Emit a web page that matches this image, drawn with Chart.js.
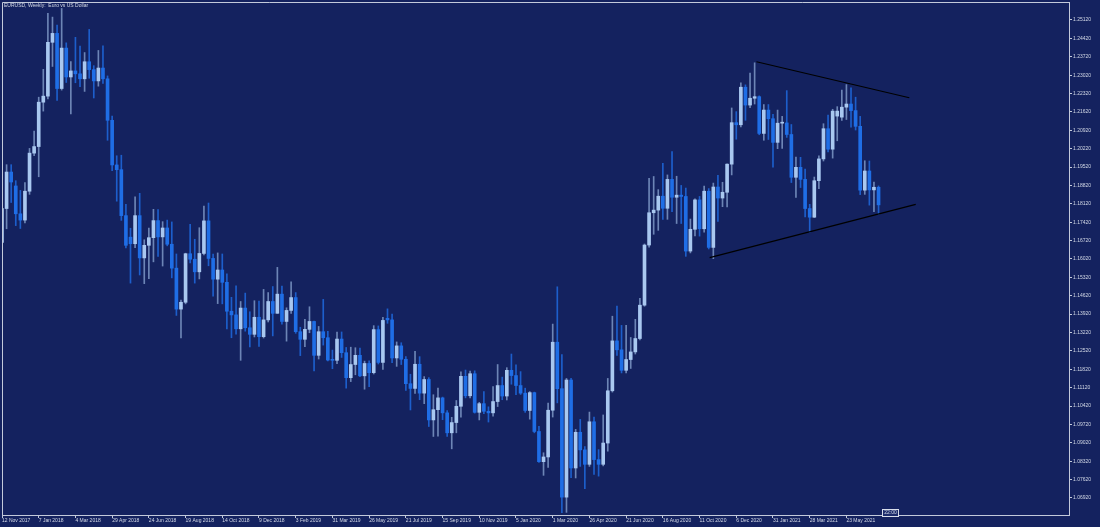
<!DOCTYPE html>
<html>
<head>
<meta charset="utf-8">
<script src="https://cdn.jsdelivr.net/npm/chart.js@4.4.0/dist/chart.umd.min.js"></script>
<style>
html,body{margin:0;padding:0;background:#14225f;overflow:hidden}
#wrap{width:1100px;height:527px;position:relative}
</style>
</head>
<body>
<div id="wrap"><canvas id="c" width="1100" height="527"></canvas></div>
<script>
// EURUSD weekly candles, week of 12 Nov 2017 (index 0) to week of 11 Jul 2021 (index 191)
const opens = [
1.1665,1.1794,1.1933,1.1880,1.1774,1.1750,1.1860,1.2005,1.2030,1.2199,
1.2222,1.2427,1.2461,1.2251,1.2405,1.2295,1.2318,1.2307,1.2288,1.2353,
1.2323,1.2280,1.2329,1.2288,1.2130,1.1960,1.1942,1.1767,1.1685,1.1660,
1.1767,1.1606,1.1654,1.1683,1.1748,1.1686,1.1720,1.1658,1.1567,1.1411,
1.1437,1.1622,1.1601,1.1553,1.1623,1.1747,1.1604,1.1525,1.1560,1.1513,
1.1403,1.1389,1.1336,1.1415,1.1340,1.1315,1.1380,1.1306,1.1370,1.1440,
1.1395,1.1468,1.1364,1.1406,1.1455,1.1325,1.1296,1.1334,1.1364,1.1235,
1.1325,1.1302,1.1217,1.1216,1.1297,1.1245,1.1150,1.1200,1.1235,1.1157,
1.1204,1.1169,1.1333,1.1208,1.1376,1.1370,1.1225,1.1271,1.1220,1.1127,
1.1109,1.1201,1.1091,1.1143,1.0989,1.1028,1.1073,1.1016,1.0940,1.0979,
1.1041,1.1155,1.1081,1.1165,1.1018,1.1051,1.1022,1.1016,1.1059,1.1120,
1.1080,1.1178,1.1158,1.1120,1.1091,1.1025,1.1093,1.0945,1.0830,1.0848,
1.1026,1.1285,1.1108,1.0695,1.1141,1.0806,1.0942,1.0875,1.0820,1.0982,
1.0838,1.0820,1.0901,1.1100,1.1290,1.1256,1.1178,1.1219,1.1248,1.1299,
1.1426,1.1655,1.1778,1.1788,1.1841,1.1795,1.1905,1.1837,1.1845,1.1840,
1.1632,1.1715,1.1827,1.1717,1.1860,1.1646,1.1876,1.1834,1.1856,1.1963,
1.2121,1.2113,1.2256,1.2188,1.2214,1.2220,1.2080,1.2169,1.2136,1.2046,
1.2119,1.2120,1.2076,1.1913,1.1951,1.1905,1.1794,1.1761,1.1900,1.1983,
1.2098,1.2020,1.2146,1.2142,1.2180,1.2192,1.2167,1.2107,1.1864,1.1937,
1.1865,1.1875
];
const highs = [
1.1862,1.1961,1.1961,1.1900,1.1863,1.1893,1.2023,1.2089,1.2218,1.2324,
1.2537,1.2523,1.2493,1.2556,1.2425,1.2354,1.2446,1.2413,1.2388,1.2476,
1.2338,1.2396,1.2414,1.2299,1.2146,1.1995,1.1997,1.1810,1.1719,1.1839,
1.1852,1.1675,1.1720,1.1791,1.1790,1.1744,1.1750,1.1743,1.1621,1.1445,
1.1624,1.1734,1.1677,1.1721,1.1803,1.1815,1.1621,1.1625,1.1621,1.1545,
1.1456,1.1500,1.1440,1.1472,1.1401,1.1443,1.1442,1.1486,1.1474,1.1497,
1.1570,1.1499,1.1416,1.1515,1.1474,1.1342,1.1372,1.1420,1.1365,1.1345,
1.1448,1.1326,1.1255,1.1324,1.1324,1.1265,1.1266,1.1264,1.1263,1.1213,
1.1214,1.1348,1.1347,1.1380,1.1412,1.1392,1.1286,1.1283,1.1230,1.1163,
1.1250,1.1230,1.1154,1.1150,1.1085,1.1110,1.1076,1.1025,1.0999,1.1063,
1.1172,1.1179,1.1175,1.1176,1.1056,1.1097,1.1039,1.1116,1.1200,1.1152,
1.1188,1.1240,1.1199,1.1173,1.1110,1.1097,1.1095,1.0965,1.0864,1.1053,
1.1354,1.1496,1.1238,1.1147,1.1147,1.0953,1.0991,1.0888,1.1019,1.1000,
1.0876,1.1008,1.1147,1.1384,1.1423,1.1349,1.1349,1.1303,1.1372,1.1452,
1.1659,1.1909,1.1916,1.1866,1.1966,1.1922,1.2011,1.1917,1.1882,1.1872,
1.1754,1.1831,1.1840,1.1880,1.1870,1.1891,1.1920,1.1894,1.1964,1.2177,
1.2163,1.2273,1.2265,1.2310,1.2349,1.2223,1.2190,1.2190,1.2153,1.2169,
1.2145,1.2243,1.2114,1.1990,1.1989,1.1944,1.1810,1.1914,1.1995,1.2117,
1.2150,1.2172,1.2182,1.2245,1.2266,1.2254,1.2218,1.2145,1.1976,1.1975,
1.1895,1.1880
];
const lows = [
1.1635,1.1717,1.1817,1.1729,1.1718,1.1739,1.1848,1.1995,1.1915,1.2165,
1.2211,1.2335,1.2206,1.2245,1.2274,1.2154,1.2273,1.2258,1.2240,1.2290,
1.2215,1.2260,1.2270,1.2054,1.1938,1.1822,1.1749,1.1644,1.1510,1.1645,
1.1541,1.1508,1.1527,1.1591,1.1612,1.1575,1.1652,1.1530,1.1387,1.1301,
1.1431,1.1587,1.1510,1.1526,1.1617,1.1576,1.1460,1.1432,1.1431,1.1336,
1.1302,1.1316,1.1216,1.1327,1.1267,1.1305,1.1269,1.1301,1.1362,1.1309,
1.1395,1.1354,1.1289,1.1395,1.1319,1.1234,1.1268,1.1321,1.1176,1.1221,
1.1274,1.1214,1.1184,1.1203,1.1227,1.1110,1.1135,1.1161,1.1154,1.1106,
1.1116,1.1164,1.1202,1.1181,1.1357,1.1207,1.1193,1.1200,1.1101,1.1027,
1.1090,1.1066,1.1051,1.0964,1.0926,1.0927,1.0990,1.0926,1.0879,1.0940,
1.1000,1.1073,1.1073,1.1015,1.0989,1.1013,1.0981,1.1003,1.1040,1.1066,
1.1065,1.1125,1.1085,1.1086,1.1018,1.0992,1.0940,1.0827,1.0778,1.0808,
1.1000,1.1054,1.0636,1.0637,1.0769,1.0768,1.0812,1.0727,1.0812,1.0782,
1.0775,1.0814,1.0870,1.1095,1.1235,1.1168,1.1168,1.1185,1.1240,1.1294,
1.1422,1.1647,1.1696,1.1711,1.1753,1.1753,1.1782,1.1737,1.1737,1.1612,
1.1625,1.1690,1.1689,1.1704,1.1640,1.1603,1.1745,1.1801,1.1800,1.1922,
1.2058,1.2105,1.2130,1.2178,1.2192,1.2075,1.2054,1.2057,1.1952,1.2022,
1.2023,1.2065,1.1893,1.1836,1.1874,1.1762,1.1704,1.1760,1.1870,1.1975,
1.2010,1.1986,1.2052,1.2130,1.2133,1.2104,1.2093,1.1847,1.1848,1.1807,
1.1782,1.1772
];
const closes = [
1.1794,1.1933,1.1895,1.1774,1.1750,1.1860,1.2005,1.2030,1.2199,1.2222,
1.2427,1.2461,1.2251,1.2405,1.2295,1.2318,1.2307,1.2288,1.2353,1.2323,
1.2280,1.2329,1.2288,1.2130,1.1960,1.1942,1.1767,1.1654,1.1660,1.1767,
1.1606,1.1654,1.1683,1.1748,1.1686,1.1720,1.1658,1.1567,1.1411,1.1437,
1.1622,1.1601,1.1553,1.1623,1.1747,1.1604,1.1525,1.1560,1.1513,1.1403,
1.1389,1.1336,1.1415,1.1340,1.1315,1.1380,1.1306,1.1370,1.1440,1.1395,
1.1468,1.1364,1.1406,1.1455,1.1325,1.1296,1.1334,1.1364,1.1235,1.1325,
1.1302,1.1217,1.1216,1.1297,1.1245,1.1150,1.1200,1.1235,1.1157,1.1204,
1.1169,1.1333,1.1208,1.1368,1.1370,1.1225,1.1271,1.1220,1.1127,1.1109,
1.1201,1.1091,1.1143,1.0989,1.1028,1.1073,1.1016,1.0940,1.0979,1.1041,
1.1155,1.1081,1.1165,1.1018,1.1051,1.1022,1.1016,1.1059,1.1120,1.1080,
1.1178,1.1158,1.1120,1.1091,1.1025,1.1093,1.0945,1.0830,1.0848,1.1026,
1.1285,1.1108,1.0695,1.1141,1.0806,1.0942,1.0875,1.0820,1.0982,1.0838,
1.0820,1.0901,1.1100,1.1290,1.1256,1.1178,1.1219,1.1248,1.1299,1.1426,
1.1655,1.1778,1.1788,1.1841,1.1795,1.1905,1.1837,1.1845,1.1840,1.1632,
1.1715,1.1827,1.1717,1.1860,1.1646,1.1876,1.1834,1.1856,1.1963,1.2121,
1.2113,1.2256,1.2188,1.2214,1.2220,1.2080,1.2169,1.2136,1.2046,1.2119,
1.2120,1.2076,1.1913,1.1951,1.1905,1.1794,1.1761,1.1900,1.1983,1.2098,
1.2020,1.2165,1.2165,1.2180,1.2192,1.2167,1.2107,1.1864,1.1937,1.1865,
1.1875,1.1808
];
// x tick positions (week index) and their labels
const xTickIndex = [0,8,16,24,32,40,48,56,64,72,80,88,96,104,112,120,128,136,144,152,160,168,176,184];
const xTickLabels = ['12 Nov 2017','7 Jan 2018','4 Mar 2018','29 Apr 2018','24 Jun 2018','19 Aug 2018',
  '14 Oct 2018','9 Dec 2018','3 Feb 2019','31 Mar 2019','26 May 2019','21 Jul 2019','15 Sep 2019',
  '10 Nov 2019','5 Jan 2020','1 Mar 2020','26 Apr 2020','21 Jun 2020','16 Aug 2020','11 Oct 2020',
  '6 Dec 2020','31 Jan 2021','28 Mar 2021','23 May 2021'];
// price axis ticks
const yTicks = [1.0692,1.0762,1.0832,1.0902,1.0972,1.1042,1.1112,1.1182,1.1252,1.1322,1.1392,1.1462,1.1532,
  1.1602,1.1672,1.1742,1.1812,1.1882,1.1952,1.2022,1.2092,1.2162,1.2232,1.2302,1.2372,1.2442,1.2512];
// triangle trend lines: [startIndex, startPrice, endIndex, endPrice]
const upperLine = [164.4, 1.2353, 197.7, 1.2216];
const lowerLine = [154.2, 1.1607, 199.1, 1.1810];

const titleText = 'EURUSD, Weekly:  Euro vs US Dollar';
const timeLabel = '22:00';

const BG = '#14225f';
const BULL = '#a9c8f0', BEAR = '#1f6ee6';
const BULL_WICK = 'rgba(169,200,240,0.6)', BEAR_WICK = 'rgba(31,110,230,0.8)';
const FRAME = '#c3cadb', TEXT = '#d3d9e6';
const FONT = {family: 'Liberation Sans, Arial, sans-serif', size: 5};

const isBull = opens.map((o, i) => closes[i] >= o);

const bgPlugin = {
  id: 'bg',
  beforeDraw(chart) {
    const c = chart.ctx;
    c.save();
    c.fillStyle = BG;
    c.fillRect(0, 0, chart.width, chart.height);
    c.restore();
  },
  afterDraw(chart) {
    const c = chart.ctx, a = chart.chartArea;
    c.save();
    c.strokeStyle = FRAME;
    c.lineWidth = 1;
    c.beginPath();
    c.moveTo(Math.round(a.left) + 0.5, Math.round(a.bottom) + 0.5);
    c.lineTo(Math.round(a.left) + 0.5, Math.round(a.top) + 0.5);
    c.lineTo(Math.round(a.right) + 0.5, Math.round(a.top) + 0.5);
    c.stroke();
    c.fillStyle = TEXT;
    c.font = '5px "Liberation Sans", Arial, sans-serif';
    c.textBaseline = 'middle';
    c.textAlign = 'left';
    c.fillText(titleText, 4, 5.5);
    // time marker box on bottom axis
    const bx = 882, by = 509;
    c.fillStyle = '#1d2c6c';
    c.fillRect(bx, by, 16, 7);
    c.strokeStyle = '#d8deea';
    c.strokeRect(bx + 0.5, by + 0.5, 16, 7);
    c.fillStyle = TEXT;
    c.textAlign = 'center';
    c.fillText(timeLabel, bx + 8.5, by + 4);
    c.restore();
  }
};

new Chart(document.getElementById('c').getContext('2d'), {
  type: 'bar',
  data: {
    datasets: [
      {
        label: 'wicks',
        data: opens.map((o, i) => ({x: i, y: [lows[i], highs[i]]})),
        backgroundColor: isBull.map(b => b ? BULL_WICK : BEAR_WICK),
        barThickness: 1,
        grouped: false,
        order: 3
      },
      {
        label: 'bodies',
        data: opens.map((o, i) => ({x: i, y: [o, closes[i]]})),
        backgroundColor: isBull.map(b => b ? BULL : BEAR),
        barThickness: 3,
        minBarLength: 1,
        grouped: false,
        order: 2
      },
      {
        type: 'line',
        label: 'upper',
        data: [{x: upperLine[0], y: upperLine[1]}, {x: upperLine[2], y: upperLine[3]}],
        borderColor: '#000000',
        borderWidth: 1.2,
        pointRadius: 0,
        order: 1
      },
      {
        type: 'line',
        label: 'lower',
        data: [{x: lowerLine[0], y: lowerLine[1]}, {x: lowerLine[2], y: lowerLine[3]}],
        borderColor: '#000000',
        borderWidth: 1.2,
        pointRadius: 0,
        order: 0
      }
    ]
  },
  options: {
    responsive: false,
    animation: false,
    devicePixelRatio: 1,
    layout: {padding: {left: 2, top: 2, right: 0, bottom: 0}},
    plugins: {legend: {display: false}, tooltip: {enabled: false}, title: {display: false}},
    scales: {
      x: {
        type: 'linear',
        min: 0,
        max: 232.5,
        offset: false,
        afterBuildTicks: s => { s.ticks = xTickIndex.map(v => ({value: v})); },
        afterFit: s => { s.height = 12; s.paddingLeft = 0; s.paddingRight = 0; },
        ticks: {
          callback: (v, i) => xTickLabels[i],
          autoSkip: false,
          maxRotation: 0,
          minRotation: 0,
          align: 'start',
          padding: 0,
          color: TEXT,
          font: FONT
        },
        grid: {display: true, drawOnChartArea: false, drawTicks: true, tickLength: 3, color: FRAME, offset: false},
        border: {display: true, color: FRAME, width: 1}
      },
      y: {
        type: 'linear',
        position: 'right',
        min: 1.0627,
        max: 1.25805,
        beginAtZero: false,
        afterBuildTicks: s => { s.ticks = yTicks.map(v => ({value: v})); },
        afterFit: s => { s.width = 31; s.paddingTop = 0; s.paddingBottom = 0; },
        ticks: {
          callback: v => v.toFixed(5),
          autoSkip: false,
          padding: 1,
          color: TEXT,
          font: FONT
        },
        grid: {display: true, drawOnChartArea: false, drawTicks: true, tickLength: 3, color: FRAME},
        border: {display: true, color: FRAME, width: 1}
      }
    }
  },
  plugins: [bgPlugin]
});
</script>
</body>
</html>
